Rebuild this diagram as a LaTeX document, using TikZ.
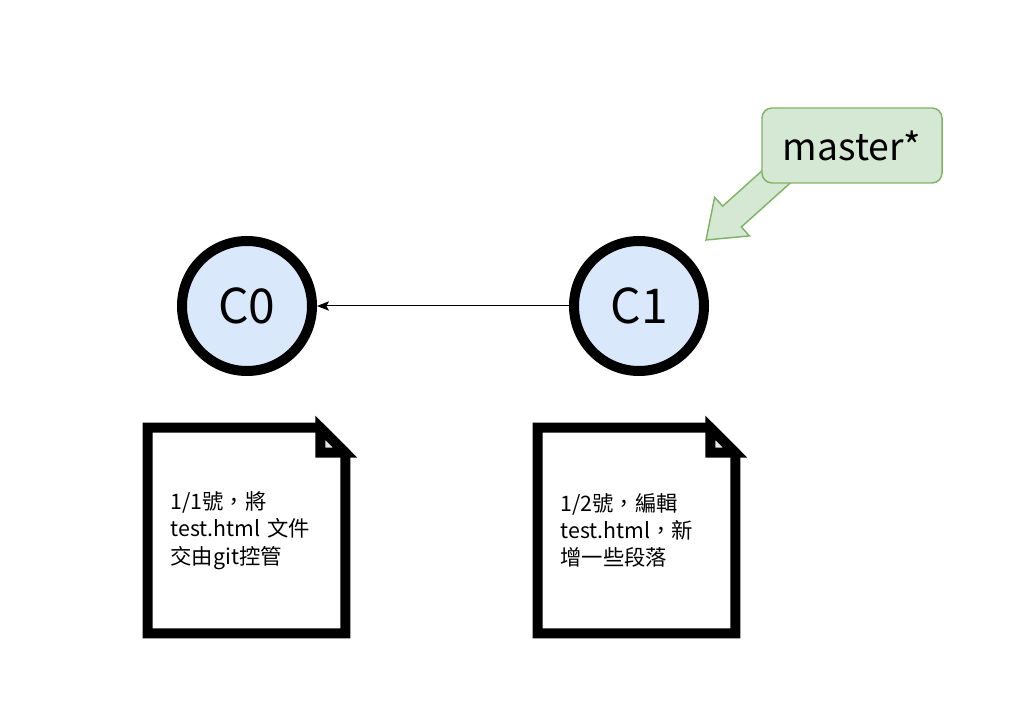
\documentclass[tikz,border=0pt]{standalone}
\usepackage{fontspec}
\setmainfont{Noto Sans CJK TC}
\usetikzlibrary{arrows.meta,backgrounds}
\definecolor{commitfill}{HTML}{DAE8FC}
\definecolor{tagfill}{HTML}{D5E8D4}
\definecolor{tagline}{HTML}{82B366}
\definecolor{foldgray}{HTML}{E6E6E6}

\begin{document}
\begin{tikzpicture}[x=0.75pt,y=0.75pt,
  commit/.style={circle,draw,line width=7.5pt,fill=commitfill,minimum size=97.5pt,inner sep=0pt,font=\fontsize{36}{40}\selectfont},
  note/.style={rectangle,minimum width=147.75pt,minimum height=153.75pt,text width=114pt,align=left,inner sep=0pt,font=\fontsize{16}{20.5}\selectfont},
  noteline/.style={line width=7.5pt,line join=miter},
  tag/.style={rectangle,rounded corners=7.5pt,draw=tagline,fill=tagfill,line width=1.1pt,minimum width=135pt,minimum height=56.25pt,font=\fontsize{28}{32}\selectfont},
  pointer/.style={draw=tagline,fill=tagfill,line width=1.1pt,line join=miter}]
\useasboundingbox (0,0) rectangle (1012,-712);

% commits
\node[commit] (c0) at (247,-306) {C0};
\node[commit] (c1) at (639,-306) {C1};
\draw[-{Stealth[length=9pt,width=7pt,inset=2pt]},line width=0.75pt] (c1) -- (c0);

% branch tag
\node[tag] (master) at (852,-145.5) {master*};
\coordinate (tip) at (706,-240);
\begin{pgfonlayer}{background}
\begin{scope}[shift={(tip)},rotate=42]
\draw[pointer] (0,0) -- (35,26) -- (35,14) -- (110,14) -- (110,-14) -- (35,-14) -- (35,-26) -- cycle;
\end{scope}
\end{pgfonlayer}

% notes
\node[note] (note0) at (246.5,-530.5) {1/1號，將\\test.html 文件\\交由git控管};
\draw[noteline] (note0.north west) -- ([xshift=-18.75pt]note0.north east) -- ([yshift=-18.75pt]note0.north east)
      -- (note0.south east) -- (note0.south west) -- cycle;
\filldraw[noteline,fill=foldgray] ([xshift=-18.75pt]note0.north east) -- ([xshift=-18.75pt,yshift=-18.75pt]note0.north east)
      -- ([yshift=-18.75pt]note0.north east) -- cycle;

\node[note] (note1) at (636.5,-530.5) {1/2號，編輯\\test.html，新\\增一些段落};
\draw[noteline] (note1.north west) -- ([xshift=-18.75pt]note1.north east) -- ([yshift=-18.75pt]note1.north east)
      -- (note1.south east) -- (note1.south west) -- cycle;
\filldraw[noteline,fill=foldgray] ([xshift=-18.75pt]note1.north east) -- ([xshift=-18.75pt,yshift=-18.75pt]note1.north east)
      -- ([yshift=-18.75pt]note1.north east) -- cycle;

\end{tikzpicture}
\end{document}
